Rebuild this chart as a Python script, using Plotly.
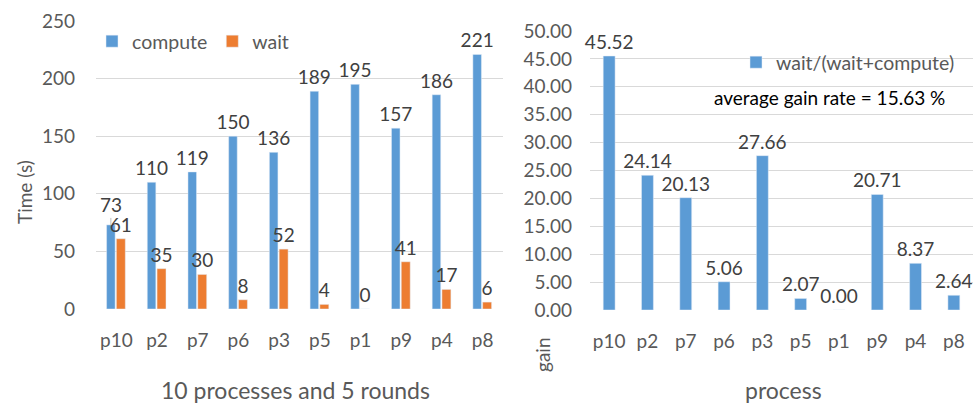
import plotly.graph_objects as go

categories = ["p10", "p2", "p7", "p6", "p3", "p5", "p1", "p9", "p4", "p8"]
compute = [73, 110, 119, 150, 136, 189, 195, 157, 186, 221]
wait = [61, 35, 30, 8, 52, 4, 0, 41, 17, 6]
gain = [45.52, 24.14, 20.13, 5.06, 27.66, 2.07, 0.00, 20.71, 8.37, 2.64]

BLUE = "#5B9BD5"
ORANGE = "#ED7D31"
TXT = "#595959"
LBL = "#404040"
GRID = "#D9D9D9"
FONT = "Lato, Carlito, Calibri, sans-serif"
W, H = 976, 403
FS = 19

def px_x(x):
    return x / W

def px_y(y):
    return (H - y) / H

# compute label of the first category is placed with a leader line (as in the reference)
compute_text = [""] + [str(v) for v in compute[1:]]
C_OFF, C_W = -0.24, 0.21

fig = go.Figure()
fig.add_trace(go.Bar(x=categories, y=compute, name="compute", marker_color=BLUE,
                     width=C_W, offset=C_OFF, text=compute_text, textposition="outside",
                     constraintext="none",
                     textfont=dict(size=FS, color=LBL), cliponaxis=False,
                     xaxis="x", yaxis="y", legend="legend"))
fig.add_trace(go.Bar(x=categories, y=wait, name="wait", marker_color=ORANGE,
                     width=0.22, offset=0.0, text=wait, textposition="outside",
                     constraintext="none",
                     textfont=dict(size=FS, color=LBL), cliponaxis=False,
                     xaxis="x", yaxis="y", legend="legend"))
fig.add_trace(go.Bar(x=categories, y=gain, name="wait/(wait+compute)", marker_color=BLUE,
                     width=0.31, offset=-0.155, texttemplate="%{y:.2f}", textposition="outside",
                     constraintext="none",
                     textfont=dict(size=FS, color=LBL), cliponaxis=False,
                     xaxis="x2", yaxis="y2", legend="legend2"))

axis_common = dict(showline=False, zeroline=False, ticks="", tickfont=dict(size=FS, color=TXT))

def ann(text, x, y, size, color=TXT, angle=0):
    return dict(text=text, x=px_x(x), y=px_y(y), xref="paper", yref="paper",
                xanchor="center", yanchor="middle", textangle=angle,
                showarrow=False, font=dict(size=size, color=color))

fig.update_layout(
    width=W, height=H,
    margin=dict(l=0, r=0, t=0, b=0, autoexpand=False),
    paper_bgcolor="white", plot_bgcolor="white",
    font=dict(family=FONT, color=TXT),
    xaxis=dict(domain=[px_x(96), px_x(503)], anchor="y", showgrid=False,
               ticklabelstandoff=18, automargin=False, **axis_common),
    yaxis=dict(domain=[px_y(309), px_y(21)], anchor="x", range=[0, 250], dtick=50,
               showgrid=True, gridcolor=GRID, gridwidth=1, ticklabelstandoff=20,
               automargin=False, **axis_common),
    xaxis2=dict(domain=[px_x(590), px_x(973)], anchor="y2", showgrid=False,
                ticklabelstandoff=18, automargin=False, **axis_common),
    yaxis2=dict(domain=[px_y(310), px_y(31)], anchor="x2", range=[0, 50], dtick=5,
                tickformat=".2f", showgrid=True, gridcolor=GRID, gridwidth=1,
                ticklabelstandoff=17, automargin=False, **axis_common),
    legend=dict(orientation="h", x=px_x(92), y=px_y(22), xanchor="left", yanchor="top",
                font=dict(size=19.5, color=TXT), bgcolor="rgba(0,0,0,0)", itemwidth=30,
                traceorder="normal"),
    legend2=dict(orientation="h", x=px_x(736), y=px_y(43), xanchor="left", yanchor="top",
                 font=dict(size=19.5, color=TXT), bgcolor="rgba(0,0,0,0)", itemwidth=30),
    showlegend=True,
    annotations=[
        dict(text=str(compute[0]), x=C_OFF + C_W / 2, y=compute[0], xref="x", yref="y",
             showarrow=True, arrowhead=0, arrowwidth=1, arrowcolor="#BFBFBF",
             ax=0, ay=-20, font=dict(size=FS, color=LBL)),
        ann("Time (s)", 24, 192, FS, angle=-90),
        ann("10 processes and 5 rounds", 295, 390, 23),
        ann("process", 783, 390, 23),
        ann("gain", 542, 355, FS, angle=-90),
        ann("average gain rate = 15.63 %", 829, 98, 19, color="#000000"),
    ],
)

fig.write_html("out.html", post_script="document.body.style.margin='0';",
               config={"displayModeBar": False})
